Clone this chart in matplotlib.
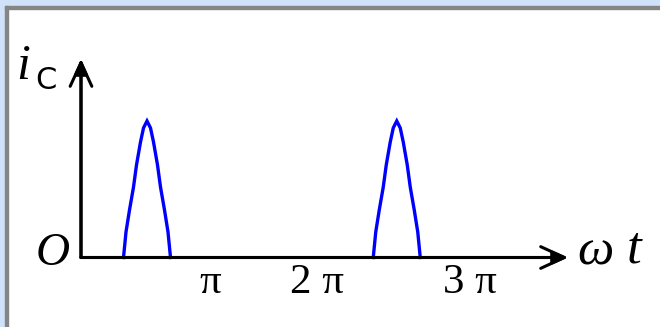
import matplotlib
matplotlib.use("Agg")
import matplotlib.pyplot as plt
from matplotlib.patches import Rectangle, FancyArrowPatch, ArrowStyle

# Collector current pulses: phase in units of pi, current normalised to the peak
pulse_centers = [0.528, 2.526]
pulse_offset = [-0.188, -0.168, -0.140, -0.108, -0.084, -0.052, -0.028, 0.0,
                0.028, 0.052, 0.084, 0.108, 0.140, 0.168, 0.188]
pulse_current = [0.0, 0.187, 0.348, 0.516, 0.678, 0.846, 0.949, 1.0,
                 0.949, 0.846, 0.678, 0.516, 0.348, 0.187, 0.0]

tick_labels = ["π", "2 π", "3 π"]
tick_pos = [1.032, 1.888, 3.112]

axis_x_end = 3.896
axis_y_end = 1.454

fig = plt.figure(figsize=(6.6, 3.27), dpi=100)
fig.patch.set_facecolor("white")

# window frame at the top and left edges
W, H = 660.0, 327.0
blue = "#cfe2fa"
grey = "#858585"
fig.patches.extend([
    Rectangle((0, 0), 5 / W, 1, transform=fig.transFigure, color=blue, zorder=0),
    Rectangle((0, 1 - 5.7 / H), 1, 5.7 / H, transform=fig.transFigure, color=blue, zorder=0),
    Rectangle((5 / W, 0), 3 / W, 1 - 5.7 / H, transform=fig.transFigure, color=grey, zorder=1),
    Rectangle((5 / W, 1 - 8.7 / H), 1, 3 / H, transform=fig.transFigure, color=grey, zorder=1),
])

ax = fig.add_axes([0, 0, 1, 1])
ax.axis("off")
ax.set_xlim(-81 / 125, (660 - 81) / 125)
ax.set_ylim(-69.5 / 136.5, 257.5 / 136.5)

for c in pulse_centers:
    xs = [c + d for d in pulse_offset]
    ax.plot(xs, pulse_current, color="#0000ff", lw=2.4, solid_joinstyle="miter", zorder=2)


def axis_arrow(p0, p1):
    line = FancyArrowPatch(p0, p1, arrowstyle=ArrowStyle("->", head_length=17, head_width=7.8),
                           mutation_scale=1, lw=2.2, color="black", shrinkA=0, shrinkB=0, zorder=3)
    tip = FancyArrowPatch(p0, p1, arrowstyle=ArrowStyle("-|>", head_length=9, head_width=4),
                          mutation_scale=1, lw=2.2, color="black", shrinkA=0, shrinkB=0, zorder=3)
    ax.add_patch(line)
    ax.add_patch(tip)


axis_arrow((0, 0), (axis_x_end, 0))
axis_arrow((0, 0), (0, axis_y_end))

serif = "Liberation Serif"
for lab, x in zip(tick_labels, tick_pos):
    ax.text(x, -0.183, lab, fontsize=31, family=serif, ha="center", va="center")

ax.text(-0.228, 0.026, "O", fontsize=34, family=serif, style="italic", ha="center", va="center")
ax.text(-0.46, 1.308, "i", fontsize=36, family=serif, style="italic", ha="center", va="baseline")
ax.text(-0.28, 1.234, "C", fontsize=22, family="DejaVu Sans", ha="center", va="baseline")
ax.text(4.116, 0.04, "ω", fontsize=37, family=serif, style="italic", ha="center", va="center")
ax.text(4.424, 0.062, "t", fontsize=38, family=serif, style="italic", ha="center", va="center")

fig.savefig("out.png", dpi=100)
